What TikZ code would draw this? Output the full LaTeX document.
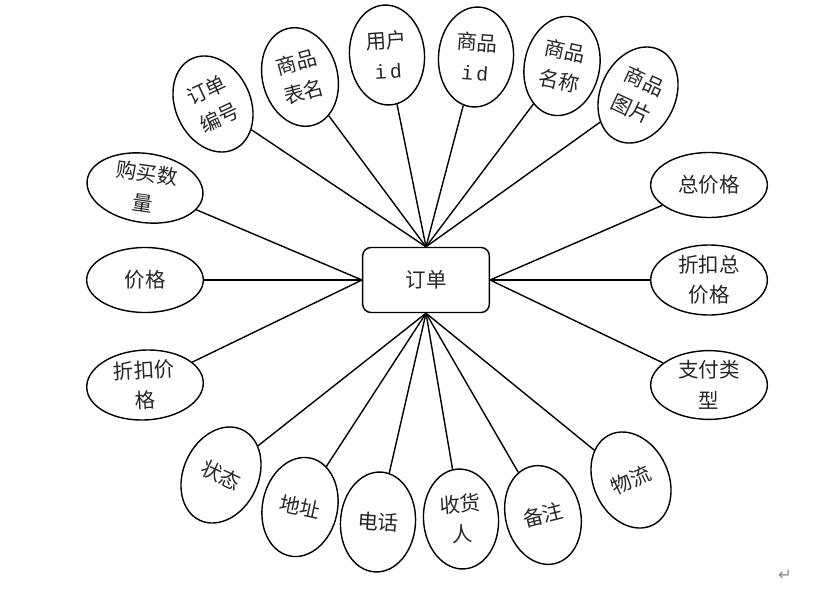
\documentclass[tikz,border=0pt]{standalone}
\usepackage{fontspec}
\newfontfamily\cjk{Noto Sans CJK SC}
\newfontfamily\monoid{Liberation Mono}
\newfontfamily\symb{DejaVu Sans}
\usetikzlibrary{shapes.geometric}
\tikzset{
  entity/.style ={rectangle, draw=black, line width=1.2pt, rounded corners=0.25cm,
                  minimum width=3.8cm, minimum height=1.95cm, inner sep=0pt},
  tall/.style   ={ellipse, draw=black, line width=1.2pt, inner sep=0pt,
                  minimum width=2.25cm, minimum height=3.0cm, align=center},
  wide/.style   ={ellipse, draw=black, line width=1.2pt, inner sep=0pt,
                  minimum width=3.5cm, minimum height=1.95cm, align=center},
  link/.style   ={line width=1.2pt, black}
}
\newcommand{\idtxt}{{\monoid\fontsize{17}{20}\selectfont i\,d}}

\begin{document}
\begin{tikzpicture}[x=0.03cm, y=-0.03cm,
  every node/.style={font=\cjk\fontsize{17.5}{26}\selectfont, text=black!85}]
\useasboundingbox (0,0) rectangle (825,588);

% Entity
\node[entity] (order) at (426,280) {订单};

% Attributes above
\node[tall, rotate=25]  (ddbh) at (213,104) {订单\\编号};
\node[tall, rotate=15]  (spbm) at (300,77)  {商品\\表名};
\node[tall, rotate=4]   (yhid) at (387,55)  {用户\\\idtxt};
\node[tall, rotate=-4]  (spid) at (476,57)  {商品\\\idtxt};
\node[tall, rotate=-12] (spmc) at (562,66)  {商品\\名称};
\node[tall, rotate=-25] (sptp) at (638,95)  {商品\\图片};

% Attributes left
\node[wide, rotate=-8]  (gmsl) at (145,188) {购买数\\量};
\node[wide]             (jg)   at (145,280) {价格};
\node[wide, rotate=3]   (zkjg) at (145,385) {折扣价\\格};

% Attributes right
\node[wide]             (zjg)  at (709,185) {总价格};
\node[wide]             (zkzj) at (709,280) {折扣总\\价格};
\node[wide]             (zflx) at (709,385) {支付类\\型};

% Attributes below
\node[tall, rotate=-25] (zt)   at (221,475) {状态};
\node[tall, rotate=-12] (dz)   at (300,507) {地址};
\node[tall, rotate=-4]  (dh)   at (378,522) {电话};
\node[tall, rotate=4]   (shr)  at (461,519) {收货\\人};
\node[tall, rotate=14]  (bz)   at (543,515) {备注};
\node[tall, rotate=25]  (wl)   at (631,480) {物流};

% Connectors
\foreach \n in {ddbh, spbm, yhid, spid, spmc, sptp}
  \draw[link] (\n) -- (order.north);
\foreach \n in {gmsl, jg, zkjg}
  \draw[link] (\n) -- (order.west);
\foreach \n in {zjg, zkzj, zflx}
  \draw[link] (\n) -- (order.east);
\foreach \n in {zt, dz, dh, shr, bz, wl}
  \draw[link] (\n) -- (order.south);

% paragraph mark
\node[font=\symb\fontsize{14}{16}\selectfont, text=black!45] (pm) at (785,575) {↵};
\end{tikzpicture}
\end{document}
